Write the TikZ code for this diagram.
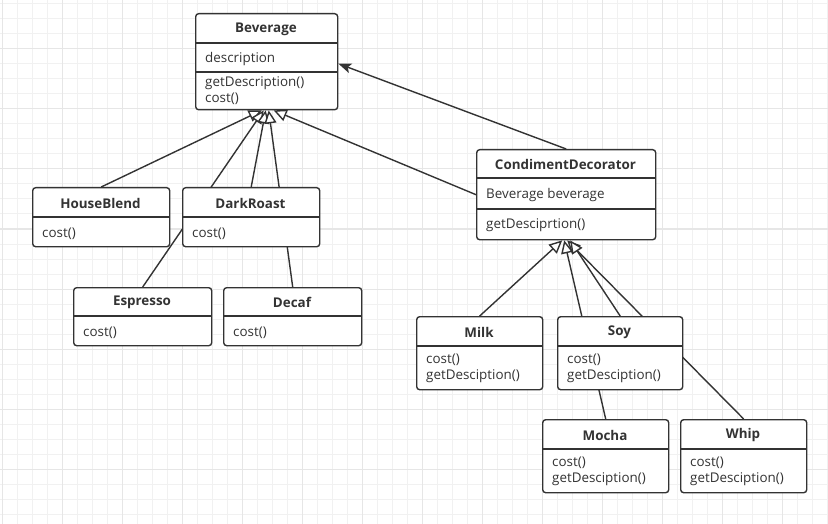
\documentclass[tikz,border=0pt]{standalone}
\usepackage{fontspec}
\setmainfont{Open Sans}
\usetikzlibrary{arrows.meta}
\definecolor{ink}{HTML}{333333}
\definecolor{gridminor}{HTML}{F1F1F1}
\definecolor{gridmajor}{HTML}{E6E6E6}
\pgfdeclarelayer{gridlayer}
\pgfdeclarelayer{edgelayer}
\pgfsetlayers{gridlayer,edgelayer,main}

% class box: name, left, top, width, height
\newcommand\classbox[5]{%
  \node[cls, minimum width=#4pt, minimum height=#5pt] (#1) at (#2,#3) {};}
% horizontal divider inside a class box at height #2
\newcommand\divider[2]{%
  \draw[sep] (#1.west |- 0,#2) -- (#1.east |- 0,#2);}

\begin{document}
\begin{tikzpicture}[x=1pt,y=-1pt,
  font=\fontsize{13.4}{16}\selectfont,
  cls/.style={draw=ink, line width=1.4pt, rounded corners=3pt, fill=white,
    anchor=north west, inner sep=0pt},
  sep/.style={draw=ink, line width=1.4pt},
  ttl/.style={font=\fontsize{13.4}{16}\selectfont\bfseries, text=ink, inner sep=0pt},
  mem/.style={anchor=west, text=ink, align=left, inner sep=0pt},
  inh/.style={draw=ink, line width=1.4pt,
    -{Triangle[open, length=13pt, width=12pt, fill=white]}},
  assoc/.style={draw=ink, line width=1.4pt,
    -{Stealth[length=13pt, width=10pt, inset=3pt]}}]

\useasboundingbox (0,0) rectangle (828,524);

% background grid
\begin{pgfonlayer}{gridlayer}
  \fill[white] (0,0) rectangle (828,524);
  \foreach \x in {2.5,17.5,...,827.5} \draw[gridminor, line width=1pt] (\x,0) -- (\x,524);
  \foreach \y in {4,19,...,524} \draw[gridminor, line width=1pt] (0,\y) -- (828,\y);
  \foreach \x in {2.5,62.5,...,827.5} \draw[gridmajor, line width=1pt] (\x,0) -- (\x,524);
  \foreach \y in {49,109,...,524} \draw[gridmajor, line width=1pt] (0,\y) -- (828,\y);
\end{pgfonlayer}

% ---- Beverage
\classbox{bev}{195}{13}{142}{96}
\divider{bev}{43}
\divider{bev}{72}
\node[ttl] (bevT) at (266,29) {Beverage};
\node[mem] (bevA) at (205,59.5) {description};
\node[mem] (bevM) at (205,90.5) {getDescription()\\cost()};

% ---- concrete beverages
\classbox{hb}{32}{187}{137}{59}
\divider{hb}{217}
\node[ttl] (hbT) at (100.5,203) {HouseBlend};
\node[mem] (hbM) at (42,233.5) {cost()};

\classbox{dr}{182}{187}{137}{59}
\divider{dr}{217}
\node[ttl] (drT) at (250.5,203) {DarkRoast};
\node[mem] (drM) at (192,233.5) {cost()};

\classbox{esp}{73}{287}{138}{58}
\divider{esp}{316}
\node[ttl] (espT) at (142,302) {Espresso};
\node[mem] (espM) at (83,332.5) {cost()};

\classbox{dec}{223}{287}{138}{58}
\divider{dec}{316}
\node[ttl] (decT) at (292,302) {Decaf};
\node[mem] (decM) at (233,332.5) {cost()};

% ---- CondimentDecorator
\classbox{cd}{476}{149}{179}{90}
\divider{cd}{178}
\divider{cd}{209}
\node[ttl] (cdT) at (565.5,164) {CondimentDecorator};
\node[mem] (cdA) at (486,195.5) {Beverage beverage};
\node[mem] (cdM) at (486,225.5) {getDesciprtion()};

% ---- condiments
\classbox{milk}{416}{316}{126}{73}
\divider{milk}{346}
\node[ttl] (milkT) at (479,332) {Milk};
\node[mem] (milkM) at (426,368.5) {cost()\\getDesciption()};

\classbox{soy}{557}{316}{125}{73}
\divider{soy}{346}
\node[ttl] (soyT) at (619.5,332) {Soy};
\node[mem] (soyM) at (567,368.5) {cost()\\getDesciption()};

\classbox{mocha}{542}{419}{126}{73}
\divider{mocha}{449}
\node[ttl] (mochaT) at (605,435) {Mocha};
\node[mem] (mochaM) at (552,471.5) {cost()\\getDesciption()};

\classbox{whip}{680}{419}{126}{73}
\divider{whip}{449}
\node[ttl] (whipT) at (743,435) {Whip};
\node[mem] (whipM) at (690,471.5) {cost()\\getDesciption()};

% ---- connectors (under the boxes)
\begin{pgfonlayer}{edgelayer}
  \draw[inh] (hb.north)  -- ([xshift=-5pt]bev.south);
  \draw[inh] (esp.north) -- ([xshift=-3pt]bev.south);
  \draw[inh] (dr.north)  -- ([xshift=-1pt]bev.south);
  \draw[inh] (dec.north) -- ([xshift=2pt]bev.south);
  \draw[inh] (cd.west)   -- ([xshift=7pt]bev.south);
  \draw[assoc] (cd.north) -- ([yshift=-2pt]bev.east);

  \draw[inh] (milk.north)  -- ([xshift=-4pt]cd.south);
  \draw[inh] (mocha.north) -- ([xshift=-2pt]cd.south);
  \draw[inh] (whip.north)  -- ([xshift=1pt]cd.south);
  \draw[inh] (soy.north)   -- ([xshift=4pt]cd.south);
\end{pgfonlayer}
\end{tikzpicture}
\end{document}
